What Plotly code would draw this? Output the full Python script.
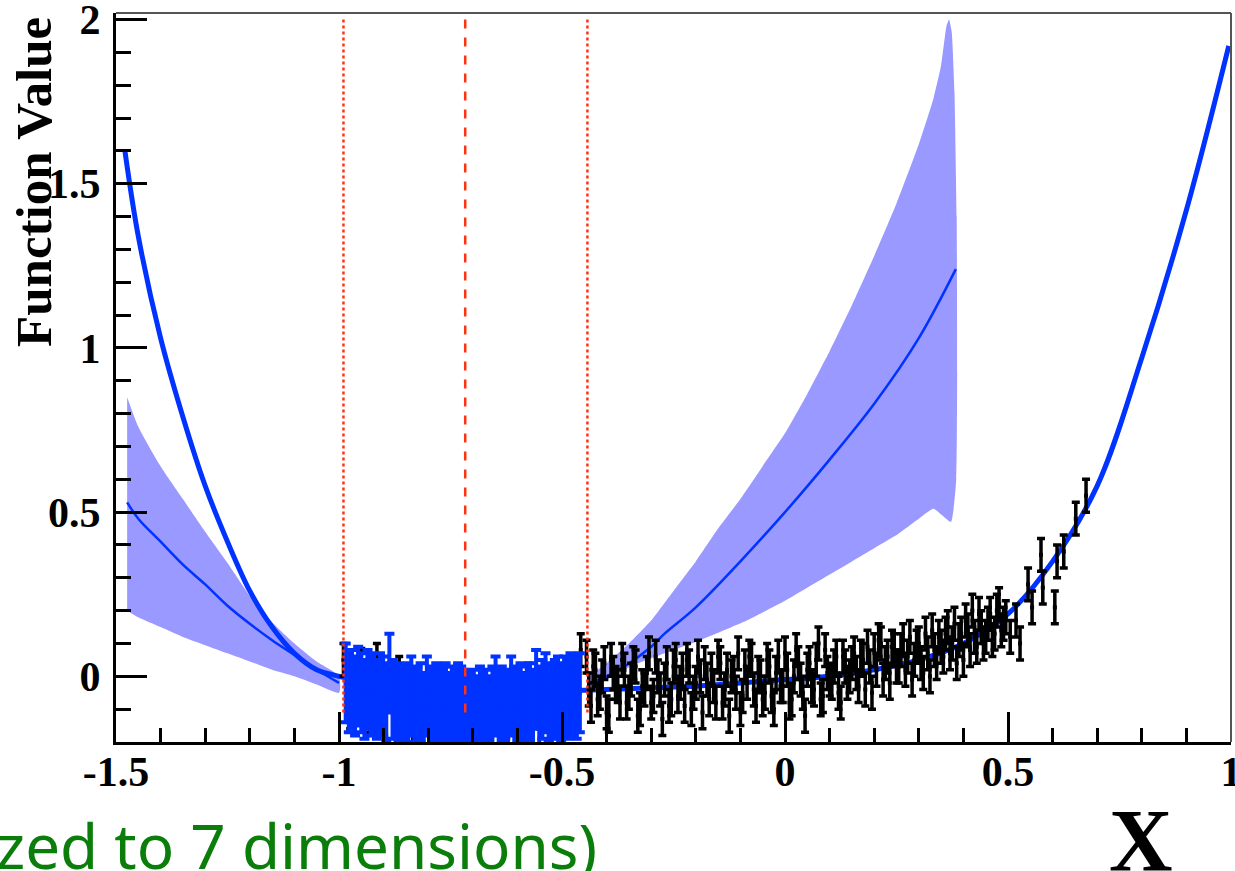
import plotly.graph_objects as go

# ---------------- data ----------------
# true function (thick blue curve)
true_x = [-1.48, -1.45, -1.4, -1.35, -1.3, -1.25, -1.2, -1.15, -1.1, -1.05, -1.0,
          -0.9, -0.8, -0.7, -0.6, -0.5, -0.4, -0.3, -0.2, -0.1, 0.0,
          0.1, 0.2, 0.3, 0.4, 0.5, 0.6, 0.7, 0.8, 0.9, 0.995]
true_y = [1.60, 1.34, 1.03, 0.79, 0.58, 0.41, 0.26, 0.15, 0.07, 0.02, 0.0,
          -0.03, -0.045, -0.05, -0.05, -0.045, -0.04, -0.035, -0.03, -0.02, -0.01,
          0.0, 0.02, 0.05, 0.10, 0.19, 0.35, 0.58, 0.97, 1.42, 1.92]

# left extrapolation band
bandL_x = [-1.475, -1.45, -1.4, -1.35, -1.3, -1.25, -1.2, -1.15, -1.1, -1.05, -1.0]
bandL_mid = [0.53, 0.48, 0.41, 0.34, 0.28, 0.215, 0.16, 0.11, 0.065, 0.02, -0.02]
bandL_hi = [0.85, 0.76, 0.64, 0.54, 0.44, 0.345, 0.245, 0.165, 0.1, 0.045, 0.0]
bandL_lo = [0.20, 0.18, 0.15, 0.12, 0.095, 0.07, 0.045, 0.02, 0.0, -0.025, -0.05]

# right extrapolation band
bandR_mid_x = [-0.44, -0.4, -0.36, -0.3, -0.27, -0.2, -0.1, 0.0, 0.1, 0.2, 0.3, 0.383]
bandR_mid_y = [-0.02, 0.0, 0.03, 0.09, 0.13, 0.21, 0.35, 0.5, 0.66, 0.83, 1.03, 1.24]
bandR_hi_x = [-0.44, -0.4, -0.35, -0.3, -0.25, -0.2, -0.15, -0.1, -0.05, 0.0, 0.05, 0.1,
              0.15, 0.2, 0.25, 0.3, 0.333, 0.35, 0.362, 0.368, 0.374, 0.38, 0.385, 0.386, 0.384]
bandR_hi_y = [0.0, 0.04, 0.10, 0.17, 0.26, 0.35, 0.45, 0.54, 0.64, 0.74, 0.86, 0.99,
              1.13, 1.28, 1.44, 1.62, 1.76, 1.86, 1.98, 2.0, 1.96, 1.78, 1.4, 0.9, 0.6]
bandR_lo_x = [-0.44, -0.4, -0.347, -0.3, -0.25, -0.19, -0.086, 0.0, 0.1, 0.15, 0.2, 0.25,
              0.3, 0.333, 0.372]
bandR_lo_y = [-0.04, -0.01, 0.03, 0.055, 0.08, 0.11, 0.17, 0.23, 0.31, 0.35, 0.39, 0.43,
              0.48, 0.51, 0.47]

# black data points (all samples), first set
black_x = [-0.99, -0.975, -0.95, -0.93, -0.915, -0.885, -0.865, -0.835, -0.81, -0.785, -0.76,
           -0.735, -0.70, -0.675, -0.65, -0.625, -0.60, -0.575, -0.55, -0.525, -0.50, -0.475, -0.458,
           -0.445, -0.435, -0.425, -0.415, -0.405, -0.395, -0.385, -0.375, -0.365, -0.355,
           -0.345, -0.335, -0.325, -0.315, -0.305, -0.295, -0.285, -0.275, -0.265, -0.255,
           -0.245, -0.235, -0.225, -0.215, -0.205, -0.195, -0.185, -0.175, -0.165, -0.155,
           -0.145, -0.135, -0.125, -0.115, -0.105, -0.095, -0.085, -0.075, -0.065, -0.055,
           -0.045, -0.035, -0.025, -0.015, -0.005, 0.005, 0.015, 0.025, 0.035, 0.045,
           0.055, 0.065, 0.075, 0.085, 0.095, 0.105, 0.115, 0.125, 0.135, 0.145,
           0.155, 0.165, 0.175, 0.185, 0.195, 0.205, 0.215, 0.225, 0.235, 0.245,
           0.255, 0.265, 0.275, 0.285, 0.295, 0.305, 0.315, 0.325, 0.335, 0.345,
           0.355, 0.365, 0.375, 0.385, 0.395, 0.405, 0.415, 0.425, 0.435, 0.445,
           0.455, 0.465, 0.475, 0.485, 0.495,
           0.505, 0.518, 0.527, 0.545, 0.554, 0.574, 0.578, 0.605, 0.61, 0.625, 0.652, 0.675]
black_y = [0.05, -0.11, 0.035, -0.12, 0.05, -0.05, 0.01, -0.15, -0.04, -0.09, -0.02,
           -0.13, -0.06, -0.10, -0.03, -0.14, -0.07, -0.01, -0.11, -0.05, -0.15, -0.13, 0.08,
           0.06, -0.09, 0.02, -0.05, 0.04, -0.12, 0.01, -0.03, 0.05, -0.08,
           -0.01, 0.03, -0.10, -0.04, 0.07, -0.06, 0.0, -0.13, 0.04, -0.07,
           0.05, -0.02, -0.09, 0.03, -0.05, 0.06, -0.11, -0.01, 0.02, -0.08,
           0.04, -0.04, -0.12, 0.01, 0.07, -0.06, -0.02, 0.05, -0.09, 0.0,
           -0.05, 0.03, -0.10, 0.06, -0.03, 0.02, -0.07, 0.08, -0.01, -0.12,
           0.04, -0.04, 0.10, -0.06, 0.01, -0.02, 0.06, -0.08, 0.03, 0.0,
           0.07, -0.03, 0.05, 0.09, -0.05, 0.02, 0.10, 0.04, -0.02, 0.08,
           0.03, 0.11, 0.06, -0.01, 0.09, 0.04, 0.13, 0.0, 0.08, 0.12,
           0.06, 0.15, 0.10, 0.04, 0.13, 0.17, 0.08, 0.12, 0.19, 0.10,
           0.16, 0.11, 0.20, 0.14, 0.18,
           0.12, 0.17, 0.10, 0.28, 0.21, 0.37, 0.27, 0.21, 0.35, 0.38, 0.48, 0.55]

# black data points, second (interleaved) set
black2_x = [-0.44, -0.43, -0.42, -0.41, -0.40, -0.39, -0.38, -0.37, -0.36, -0.35,
            -0.34, -0.33, -0.32, -0.31, -0.30, -0.29, -0.28, -0.27, -0.26, -0.25,
            -0.24, -0.23, -0.22, -0.21, -0.20, -0.19, -0.18, -0.17, -0.16, -0.15,
            -0.14, -0.13, -0.12, -0.11, -0.10, -0.09, -0.08, -0.07, -0.06, -0.05,
            -0.04, -0.03, -0.02, -0.01, 0.00, 0.01, 0.02, 0.03, 0.04, 0.05,
            0.06, 0.07, 0.08, 0.09, 0.10, 0.11, 0.12, 0.13, 0.14, 0.15,
            0.16, 0.17, 0.18, 0.19, 0.20, 0.21, 0.22, 0.23, 0.24, 0.25,
            0.26, 0.27, 0.28, 0.29, 0.30, 0.31, 0.32, 0.33, 0.34, 0.35,
            0.36, 0.37, 0.38, 0.39, 0.40, 0.41, 0.42, 0.43, 0.44, 0.45,
            0.46, 0.47, 0.48, 0.49]
black2_y = [-0.04, 0.03, -0.07, 0.0, -0.11, 0.05, -0.02, -0.08, 0.02, -0.05,
            0.04, -0.12, -0.03, 0.01, -0.08, 0.06, -0.04, -0.01, -0.09, 0.03,
            -0.06, 0.02, 0.05, -0.10, -0.02, 0.0, 0.04, -0.07, -0.03, 0.06,
            -0.08, 0.02, 0.0, -0.05, -0.10, 0.03, 0.06, -0.04, 0.01, -0.07,
            0.05, -0.06, 0.01, -0.03, 0.07, -0.08, 0.0, 0.04, -0.05, 0.02,
            -0.03, 0.05, -0.07, 0.08, -0.01, 0.03, -0.05, 0.06, -0.02, 0.04,
            0.01, 0.06, -0.04, 0.03, 0.08, 0.11, -0.01, 0.06, 0.09, 0.03,
            0.08, 0.02, 0.12, 0.05, 0.10, 0.01, 0.07, 0.14, 0.04, 0.09,
            0.13, 0.07, 0.16, 0.11, 0.05, 0.14, 0.20, 0.09, 0.15, 0.12,
            0.19, 0.13, 0.22, 0.16]
black_err = 0.05

# blue data points (training region)
blue_x = [-0.985, -0.978, -0.971, -0.964, -0.957, -0.950, -0.943, -0.936, -0.929, -0.922,
          -0.915, -0.908, -0.901, -0.894, -0.887, -0.880, -0.873, -0.866, -0.859, -0.852,
          -0.845, -0.838, -0.831, -0.824, -0.817, -0.810, -0.803, -0.796, -0.789, -0.782,
          -0.775, -0.768, -0.761, -0.754, -0.747, -0.740, -0.733, -0.726, -0.719, -0.712,
          -0.705, -0.698, -0.691, -0.684, -0.677, -0.670, -0.663, -0.656, -0.649, -0.642,
          -0.635, -0.628, -0.621, -0.614, -0.607, -0.600, -0.593, -0.586, -0.579, -0.572,
          -0.565, -0.558, -0.551, -0.544, -0.537, -0.530, -0.523, -0.516, -0.509, -0.502,
          -0.495, -0.488, -0.481, -0.474, -0.467, -0.460]
blue_y = [-0.02, -0.05, -0.04, -0.06, -0.03, -0.05, -0.07, -0.04, -0.06, -0.05,
          -0.07, -0.05, -0.06, -0.08, 0.01, -0.07, -0.09, -0.08, -0.10, -0.09,
          -0.08, -0.06, -0.10, -0.09, -0.08, -0.11, -0.06, -0.09, -0.10, -0.08,
          -0.09, -0.10, -0.08, -0.11, -0.09, -0.10, -0.08, -0.09, -0.10, -0.12,
          -0.11, -0.10, -0.12, -0.09, -0.11, -0.10, -0.12, -0.09, -0.06, -0.10,
          -0.09, -0.11, -0.10, -0.06, -0.09, -0.10, -0.08, -0.11, -0.09, -0.08,
          -0.10, -0.04, -0.09, -0.07, -0.05, -0.08, -0.09, -0.07, -0.06, -0.08,
          -0.06, -0.07, -0.05, -0.06, -0.07, -0.05]
blue_err = 0.12

# training-region boundaries (red vertical lines)
boundaries = [-0.99, -0.717, -0.443]
boundary_dash = ["dot", "dash", "dot"]
boundary_span = [-0.11, 2.0]

x_ticks = [-1.5, -1.0, -0.5, 0.0, 0.5, 1.0]
x_ticktext = ["-1.5", "-1", "-0.5", "0", "0.5", "1"]
y_ticks = [0.0, 0.5, 1.0, 1.5, 2.0]
y_ticktext = ["0", "0.5", "1", "1.5", "2"]

# ---------------- styling ----------------
BLUE = "#0033ff"
BAND = "#9999ff"
RED = "#ff3311"
SERIF = "Liberation Serif"

fig = go.Figure()

# left band
fig.add_trace(go.Scatter(
    x=bandL_x + bandL_x[::-1], y=bandL_hi + bandL_lo[::-1],
    fill="toself", fillcolor=BAND, line=dict(width=0, shape="spline", smoothing=0.6),
    mode="lines", hoverinfo="skip", showlegend=False))
# right band
fig.add_trace(go.Scatter(
    x=bandR_hi_x + bandR_lo_x[::-1], y=bandR_hi_y + bandR_lo_y[::-1],
    fill="toself", fillcolor=BAND, line=dict(width=0, shape="spline", smoothing=0.4),
    mode="lines", hoverinfo="skip", showlegend=False))
# band means
fig.add_trace(go.Scatter(x=bandL_x, y=bandL_mid, mode="lines",
                         line=dict(color=BLUE, width=2.5, shape="spline"), showlegend=False))
fig.add_trace(go.Scatter(x=bandR_mid_x, y=bandR_mid_y, mode="lines",
                         line=dict(color=BLUE, width=2.5, shape="spline"), showlegend=False))
# true function
fig.add_trace(go.Scatter(x=true_x, y=true_y, mode="lines",
                         line=dict(color=BLUE, width=5, shape="spline"), showlegend=False))
# black data
fig.add_trace(go.Scatter(
    x=black_x + black2_x, y=black_y + black2_y, mode="markers",
    marker=dict(color="black", size=4, symbol="square"),
    error_y=dict(type="constant", value=black_err, color="black", thickness=3.5, width=4),
    showlegend=False))
# blue data
fig.add_trace(go.Scatter(
    x=blue_x, y=blue_y, mode="markers",
    marker=dict(color=BLUE, size=4, symbol="square"),
    error_y=dict(type="constant", value=blue_err, color=BLUE, thickness=4, width=5),
    showlegend=False))
# boundaries
for bx, dsh in zip(boundaries, boundary_dash):
    fig.add_trace(go.Scatter(x=[bx, bx], y=boundary_span, mode="lines",
                             line=dict(color=RED, width=2.5, dash=dsh), showlegend=False))

L, R, T, B = 116, 4, 13, 129
W, H = 1235, 871
pw, ph = W - L - R, H - T - B


def px(xp):
    return (xp - L) / pw


def py(yp):
    return (H - B - yp) / ph


fig.update_layout(
    width=W, height=H,
    margin=dict(l=L, r=R, t=T, b=B, pad=0, autoexpand=False),
    paper_bgcolor="white", plot_bgcolor="white",
    showlegend=False,
    xaxis=dict(range=[-1.5, 1.0], showgrid=False, zeroline=False, automargin=False,
               showline=True, linecolor="black", linewidth=3,
               ticks="inside", ticklen=30, tickwidth=3, tickcolor="black",
               tickvals=x_ticks, ticktext=x_ticktext, ticklabeloverflow="allow",
               ticklabelstandoff=-9,
               tickfont=dict(family=SERIF, size=42, color="black", weight="bold"),
               minor=dict(ticks="inside", ticklen=14, tickwidth=3, tickcolor="black",
                          tick0=0, dtick=0.1, showgrid=False)),
    yaxis=dict(range=[-0.2, 2.02], showgrid=False, zeroline=False, automargin=False,
               showline=True, linecolor="black", linewidth=3,
               ticks="inside", ticklen=31, tickwidth=3, tickcolor="black",
               tickvals=y_ticks, ticktext=y_ticktext, ticklabelstandoff=4,
               ticklabeloverflow="allow",
               tickfont=dict(family=SERIF, size=42, color="black", weight="bold"),
               minor=dict(ticks="inside", ticklen=15, tickwidth=3, tickcolor="black",
                          tick0=0, dtick=0.1, showgrid=False)),
    shapes=[
        dict(type="line", xref="paper", yref="paper", x0=0, x1=1, y0=1, y1=1,
             line=dict(color="#555555", width=2)),
        dict(type="line", xref="paper", yref="paper", x0=1, x1=1, y0=0, y1=1,
             line=dict(color="#555555", width=2)),
    ],
    annotations=[
        dict(text="Function Value", xref="paper", yref="paper",
             x=px(34), y=py(15), xanchor="center", yanchor="top", textangle=-90,
             showarrow=False, font=dict(family=SERIF, size=51, color="black", weight="bold")),
        dict(text="zed to 7 dimensions)", xref="paper", yref="paper",
             x=px(-6), y=py(889), xanchor="left", yanchor="bottom",
             showarrow=False, font=dict(family="Noto Sans", size=62, color="#0a7d0a")),
        dict(text="X", xref="paper", yref="paper",
             x=px(1141), y=py(891), xanchor="center", yanchor="bottom",
             showarrow=False, font=dict(family=SERIF, size=88, color="black", weight="bold")),
    ],
)

fig.write_html("out.html", config={"displayModeBar": False},
               post_script="document.body.style.margin='0px';document.body.style.padding='0px';")
